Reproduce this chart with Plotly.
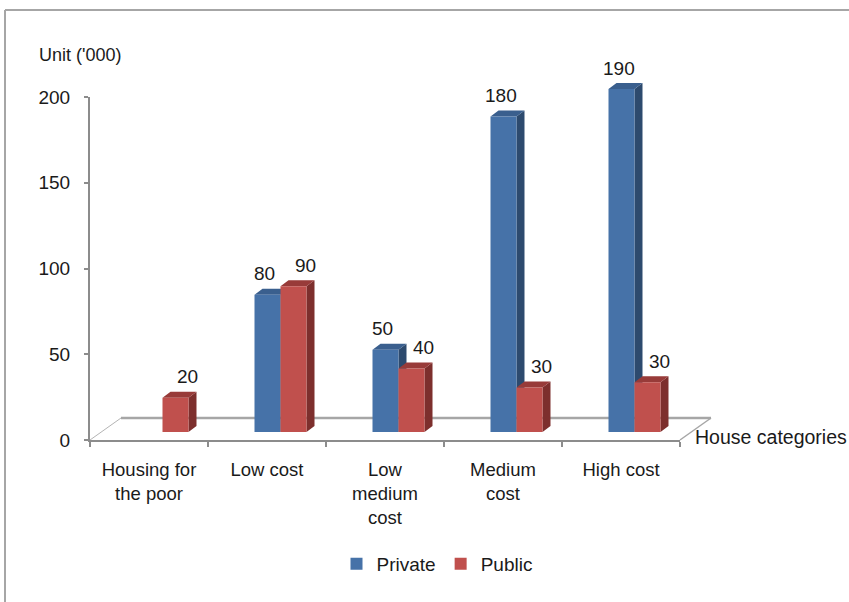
import plotly.graph_objects as go

# ---------------- data ----------------
categories = ["Housing for the poor", "Low cost", "Low medium cost", "Medium cost", "High cost"]
tick_labels = ["Housing for<br>the poor", "Low cost", "Low<br>medium<br>cost", "Medium<br>cost", "High cost"]
series_names = ["Private", "Public"]
private_values = [None, 80, 48, 184, 200]   # bar heights as drawn
public_values = [20, 85, 37, 26, 29]
private_labels = ["", "80", "50", "180", "190"]  # data-label texts
public_labels = ["20", "90", "40", "30", "30"]
y_ticks = [0, 50, 100, 150, 200]

# ---------------- geometry / style ----------------
W, H = 849, 602
X0, X1 = 90, 680          # front floor edge (px)
Y0, YTOP = 440, 97        # value axis 0 and max tick (px)
BAR_BASE = 432            # bars' front base (px)
BAR_SHIFT = 13.5          # bars sit deeper in the floor -> shifted right
DEPTH_X, DEPTH_Y = 8, 6   # bar 3D depth (px)
FLOOR_DX, FLOOR_DY = 31, 22
BAR_PX = 26
BAR_TOP_PX = 20

FONT = "Liberation Sans"
GRAY = "#8C8C8C"
TXT = "#1a1a1a"

px_per_unit = (Y0 - YTOP) / (y_ticks[-1] - y_ticks[0])
n = len(categories)
px_per_cat = (X1 - X0) / n


def fx(px):
    return px / W


def fy(py):
    return (H - py) / H


bar_range_max = (BAR_BASE - BAR_TOP_PX) / px_per_unit
dxu = DEPTH_X / px_per_cat
dyu = DEPTH_Y / px_per_unit
bw = BAR_PX / px_per_cat

colors = {
    "Private": {"front": "#4672A8", "side": "#2D4A6E", "top": "#3A5F8E"},
    "Public": {"front": "#C0504D", "side": "#7D2F2D", "top": "#983B39"},
}
offsets = {"Private": -bw, "Public": 0.0}
values = {"Private": private_values, "Public": public_values}
labels = {"Private": private_labels, "Public": public_labels}
label_xshift = {"Private": -3, "Public": 12}

fig = go.Figure()

# invisible trace establishing the category axis
fig.add_trace(go.Scatter(x=tick_labels, y=[0] * n, mode="markers",
                         marker=dict(opacity=0), hoverinfo="skip",
                         showlegend=False, xaxis="x", yaxis="y"))

# 3D side and top faces (lower layer x2/y2)
for s in series_names:
    sx, sy, tx, ty = [], [], [], []
    for i, v in enumerate(values[s]):
        if v is None:
            continue
        xl = i + offsets[s]
        xr = xl + bw
        sx += [xr, xr + dxu, xr + dxu, xr, xr, None]
        sy += [0, dyu, v + dyu, v, 0, None]
        tx += [xl, xl + dxu, xr + dxu, xr, xl, None]
        ty += [v, v + dyu, v + dyu, v, v, None]
    fig.add_trace(go.Scatter(x=sx, y=sy, fill="toself", mode="lines",
                             line=dict(width=0), fillcolor=colors[s]["side"],
                             hoverinfo="skip", showlegend=False,
                             xaxis="x2", yaxis="y2"))
    fig.add_trace(go.Scatter(x=tx, y=ty, fill="toself", mode="lines",
                             line=dict(width=0), fillcolor=colors[s]["top"],
                             hoverinfo="skip", showlegend=False,
                             xaxis="x2", yaxis="y2"))

# front faces as real bars (upper layer x3/y3)
for s in series_names:
    fig.add_trace(go.Bar(x=list(range(n)), y=values[s], name=s,
                         width=bw, offset=offsets[s],
                         marker=dict(color=colors[s]["front"], line=dict(width=0)),
                         xaxis="x3", yaxis="y3"))

# data labels
annotations = []
for s in series_names:
    for i, (v, t) in enumerate(zip(values[s], labels[s])):
        if v is None or not t:
            continue
        annotations.append(dict(x=i + offsets[s] + bw / 2, y=v, xref="x3", yref="y3",
                                text=t, showarrow=False, yanchor="middle",
                                xshift=label_xshift[s], yshift=21,
                                font=dict(size=19, color=TXT, family=FONT)))

annotations.append(dict(x=fx(37), y=fy(55), xref="paper", yref="paper",
                        text="Unit ('000)", showarrow=False, xanchor="left",
                        yanchor="middle", font=dict(size=18, color=TXT, family=FONT)))
annotations.append(dict(x=fx(693), y=fy(437), xref="paper", yref="paper",
                        text="House categories", showarrow=False, xanchor="left",
                        yanchor="middle", font=dict(size=19.5, color=TXT, family=FONT)))

shapes = [
    # outer frame (left and top)
    dict(type="line", xref="paper", yref="paper", x0=fx(5), x1=fx(5), y0=-0.05, y1=fy(10),
         line=dict(color="#A6A6A6", width=2), layer="below"),
    dict(type="line", xref="paper", yref="paper", x0=fx(5), x1=1.05, y0=fy(10), y1=fy(10),
         line=dict(color="#A6A6A6", width=2), layer="below"),
    # floor
    dict(type="line", xref="paper", yref="paper", x0=fx(X0), x1=fx(X0 + FLOOR_DX),
         y0=fy(Y0), y1=fy(Y0 - FLOOR_DY), line=dict(color="#B4B4B4", width=1), layer="below"),
    dict(type="line", xref="paper", yref="paper", x0=fx(X0 + FLOOR_DX), x1=fx(X1 + FLOOR_DX),
         y0=fy(Y0 - FLOOR_DY), y1=fy(Y0 - FLOOR_DY), line=dict(color="#A6A6A6", width=2.5),
         layer="below"),
    dict(type="line", xref="paper", yref="paper", x0=fx(X1), x1=fx(X1 + FLOOR_DX),
         y0=fy(Y0), y1=fy(Y0 - FLOOR_DY), line=dict(color="#A6A6A6", width=1.5), layer="below"),
]

fig.update_layout(
    template="none",
    width=W, height=H, margin=dict(l=0, r=0, t=0, b=0, pad=0, autoexpand=False),
    paper_bgcolor="white", plot_bgcolor="rgba(0,0,0,0)",
    font=dict(family=FONT, size=18, color=TXT),
    barmode="overlay",
    showlegend=True,
    legend=dict(orientation="h", x=fx(437), xanchor="center", y=fy(564), yanchor="middle",
                font=dict(size=19, family=FONT, color=TXT), traceorder="normal",
                bgcolor="rgba(0,0,0,0)"),
    xaxis=dict(domain=[fx(X0), fx(X1)], type="category", tickson="boundaries",
               range=[-0.5, n - 0.5],
               ticks="outside", ticklen=5, tickcolor=GRAY, tickwidth=1.5,
               showline=True, linecolor=GRAY, linewidth=2, showgrid=False,
               anchor="y", tickfont=dict(size=18.5, color=TXT), ticklabelstandoff=12,
               automargin=False, fixedrange=True),
    yaxis=dict(domain=[fy(Y0), fy(YTOP)], range=[y_ticks[0], y_ticks[-1]],
               tickmode="array", tickvals=y_ticks, ticks="outside", ticklen=4,
               tickcolor=GRAY, tickwidth=1.5, showline=True, linecolor=GRAY, linewidth=2,
               showgrid=False, zeroline=False, anchor="x", tickfont=dict(size=19, color=TXT),
               ticklabelstandoff=10, automargin=False, fixedrange=True),
    xaxis2=dict(domain=[fx(X0 + BAR_SHIFT), fx(X1 + BAR_SHIFT)], range=[-0.5, n - 0.5],
                visible=False, anchor="y2", automargin=False, fixedrange=True),
    yaxis2=dict(domain=[fy(BAR_BASE), fy(BAR_TOP_PX)], range=[0, bar_range_max],
                visible=False, anchor="x2", automargin=False, fixedrange=True),
    xaxis3=dict(overlaying="x2", range=[-0.5, n - 0.5], visible=False, anchor="y3",
                automargin=False, fixedrange=True),
    yaxis3=dict(overlaying="y2", range=[0, bar_range_max], visible=False, anchor="x3",
                automargin=False, fixedrange=True),
    annotations=annotations,
    shapes=shapes,
)

fig.write_html("out.html")
